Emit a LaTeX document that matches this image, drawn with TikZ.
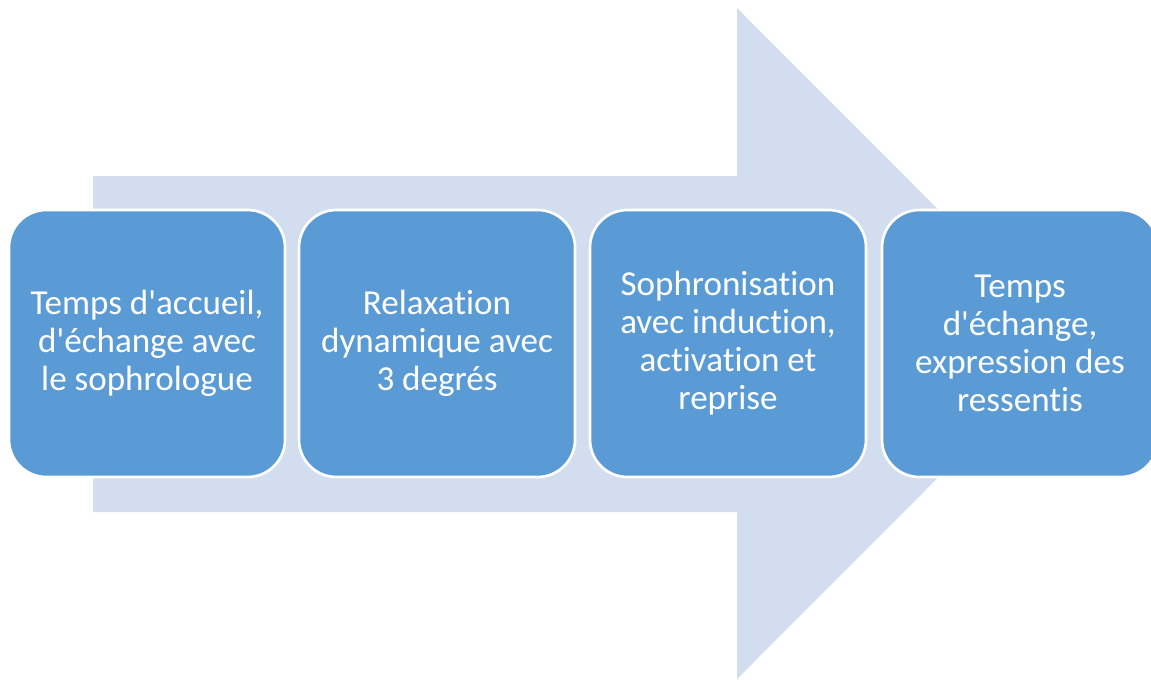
\documentclass[tikz,border=0pt]{standalone}
\usepackage{fontspec}
\setmainfont{Carlito}[Ligatures={TeXOff,NoCommon}]
\definecolor{arrowfill}{HTML}{D2DEEF}
\definecolor{boxfill}{HTML}{5B9BD5}
\begin{document}
\begin{tikzpicture}[x=0.75pt,y=-0.75pt,
  stepbox/.style={draw=white, line width=2pt, fill=boxfill, rounded corners=28pt,
    minimum width=276*0.75pt, minimum height=267*0.75pt, inner sep=0pt,
    text=white, align=center, font=\fontsize{26.3}{28.5}\selectfont}]
\useasboundingbox (0,0) rectangle (1151,679);
\clip (0,0) rectangle (1151,679);
\fill[arrowfill] (93,176) -- (737,176) -- (737,8) -- (1072,343.5) -- (737,679) -- (737,512) -- (93,512) -- cycle;
\node[stepbox] (b1) at (147,343.5) {Temps d'accueil,\\d'échange avec\\le sophrologue};
\node[stepbox] (b2) at (437,343.5) {Relaxation\\dynamique avec\\3 degrés};
\node[stepbox] (b3) at (728,343.5) {Sophronisation\\avec induction,\\activation et\\reprise};
\node[stepbox] (b4) at (1020,343.5) {Temps\\d'échange,\\expression des\\ressentis};
\end{tikzpicture}
\end{document}
